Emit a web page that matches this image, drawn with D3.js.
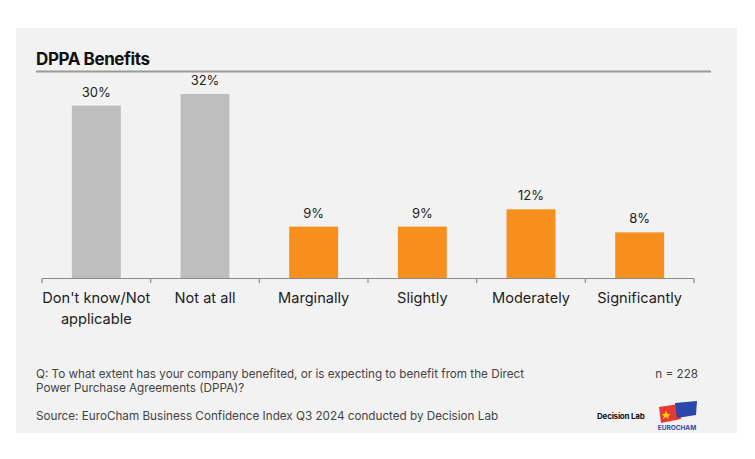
<!DOCTYPE html>
<html><head><meta charset="utf-8">
<script src="https://cdn.jsdelivr.net/npm/d3@7"></script>
<style>body{margin:0;background:#fff;}svg{display:block;font-family:Inter,"Open Sans",sans-serif;}</style>
</head><body><svg id="c" width="755" height="459"></svg>
<script>
const categories = ["Don't know/Not applicable","Not at all","Marginally","Slightly","Moderately","Significantly"];
const values = [30,32,9,9,12,8];
const groups = ["neutral","neutral","benefit","benefit","benefit","benefit"];
const colors = {neutral:"#BEBEBF", benefit:"#F78F1E"};

const svg = d3.select("#c");
svg.append("rect").attr("x",16).attr("y",28).attr("width",721).attr("height",405).attr("fill","#F2F2F2");

svg.append("text").attr("x",36).attr("y",64.5).attr("font-size",17).attr("font-weight",700).attr("fill","#111").attr("letter-spacing",-0.4).text("DPPA Benefits");
svg.append("line").attr("x1",36).attr("x2",711).attr("y1",71.5).attr("y2",71.5).attr("stroke","#9a9a93").attr("stroke-width",2);

const x = d3.scaleBand().domain(categories).range([42,694]).paddingInner(0.55).paddingOuter(0.275);
const y = d3.scaleLinear().domain([0,32]).range([278.5,94]);

const g = svg.append("g");
g.selectAll("rect.bar").data(values).join("rect").attr("class","bar")
 .attr("x",(d,i)=>x(categories[i])).attr("width",x.bandwidth())
 .attr("y",d=>y(d)).attr("height",d=>y(0)-y(d)).attr("fill",(d,i)=>colors[groups[i]]);

g.selectAll("text.val").data(values).join("text").attr("class","val")
 .attr("x",(d,i)=>x(categories[i])+x.bandwidth()/2).attr("y",d=>y(d)-9)
 .attr("text-anchor","middle").attr("font-size",13).attr("fill","#222").text(d=>d+"%");

// axis
const ticks = d3.range(categories.length+1).map(i=>42+i*(652/categories.length));
svg.append("line").attr("x1",42).attr("x2",694).attr("y1",278.5).attr("y2",278.5).attr("stroke","#8a8a8a").attr("stroke-width",1.2);
svg.selectAll("line.tk").data(ticks).join("line").attr("class","tk")
 .attr("x1",d=>d).attr("x2",d=>d).attr("y1",278.5).attr("y2",283).attr("stroke","#8a8a8a").attr("stroke-width",1.2);

const labelLines = {"Don't know/Not applicable":["Don't know/Not","applicable"]};
categories.forEach((c,i)=>{
  const lines = labelLines[c] || [c];
  const t = svg.append("text").attr("x",x(c)+x.bandwidth()/2).attr("y",303).attr("text-anchor","middle").attr("font-size",14.6).attr("fill","#222");
  lines.forEach((l,j)=>t.append("tspan").attr("x",x(c)+x.bandwidth()/2).attr("dy",j?21:0).text(l));
});

const fs = 11.7;
svg.append("text").attr("x",36).attr("y",378).attr("font-size",fs).attr("fill","#444").text("Q: To what extent has your company benefited, or is expecting to benefit from the Direct");
svg.append("text").attr("x",36).attr("y",392).attr("font-size",fs).attr("fill","#444").text("Power Purchase Agreements (DPPA)?");
svg.append("text").attr("x",698).attr("y",378).attr("text-anchor","end").attr("font-size",fs).attr("fill","#444").text("n = 228");
svg.append("text").attr("x",36).attr("y",420).attr("font-size",fs).attr("fill","#444").text("Source: EuroCham Business Confidence Index Q3 2024 conducted by Decision Lab");

// logos
svg.append("text").attr("x",597).attr("y",419).attr("font-size",8).attr("font-weight",700).attr("fill","#111").attr("letter-spacing",-0.2).text("Decision Lab");
const fl = svg.append("g").attr("transform","translate(657,401)");
fl.append("path").attr("d","M2,6 L22,3 L24,18 L4,22 Z").attr("fill","#E53935");
fl.append("path").attr("d","M18,2 L40,0 L39,14 L20,17 Z").attr("fill","#2948A8");
fl.append("path").attr("d","M9,10 l1.5,3 l3,0 l-2.5,2 l1,3 l-3,-2 l-3,2 l1,-3 l-2.5,-2 l3,0 Z").attr("fill","#FFD600");
fl.append("text").attr("x",20).attr("y",29).attr("text-anchor","middle").attr("font-size",6.5).attr("font-weight",700).attr("fill","#2948A8").text("EUROCHAM");
</script></body></html>
